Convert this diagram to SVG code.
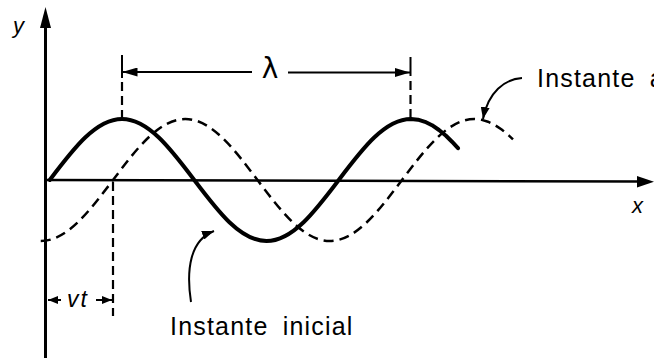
<svg xmlns="http://www.w3.org/2000/svg" width="654" height="358" viewBox="0 0 654 358">
<style>
.ax{stroke:#000;fill:none}
.solid{stroke:#000;stroke-width:4;fill:none;stroke-linecap:round;stroke-linejoin:round}
.dash{stroke:#000;stroke-width:2.5;fill:none;stroke-dasharray:10 6}
.thin{stroke:#000;stroke-width:2;fill:none}
.vdash{stroke:#000;stroke-width:2.2;fill:none;stroke-dasharray:9 5}
.lbl{font-family:"Liberation Sans",Arial,sans-serif;font-size:25px;letter-spacing:1.2px;word-spacing:6px;fill:#000}
.it{font-family:"Liberation Sans",Arial,sans-serif;font-style:italic;fill:#000}
</style>
<defs>
<marker id="ah" markerUnits="userSpaceOnUse" markerWidth="12" markerHeight="9" refX="12" refY="4.5" orient="auto">
<path d="M0,0 L12,4.5 L0,9 z" fill="#000"/>
</marker>
<marker id="big" markerUnits="userSpaceOnUse" markerWidth="15" markerHeight="9" refX="15" refY="4.5" orient="auto">
<path d="M0,0 L15,4.5 L0,9 z" fill="#000"/>
</marker>
<marker id="sm" markerUnits="userSpaceOnUse" markerWidth="10" markerHeight="8" refX="10" refY="4" orient="auto">
<path d="M0,0 L10,4 L0,8 z" fill="#000"/>
</marker>
</defs>
<rect width="654" height="358" fill="#fff"/>
<g id="axes">
<line class="ax" x1="45.5" y1="358" x2="45.5" y2="20" stroke-width="3"/>
<polygon points="45.5,7 40,28 51,28" fill="#000"/>
<line class="ax" x1="45" y1="180" x2="642" y2="181.5" stroke-width="2.5"/>
<polygon points="654,181.7 637,176 637,187.4" fill="#000"/>
<text class="it" x="13" y="33" font-size="22">y</text>
<text class="it" x="632" y="213" font-size="22">x</text>
</g>
<g id="curves">
<path id="initial" class="solid" d="M49.75,180 C73.32,148.75 95.85,119 122,119 C148.15,119 170.68,148.75 194.25,180 C217.82,211.25 240.35,241 266.5,241 C292.65,241 315.18,211.25 338.75,180 C362.32,148.75 384.85,119 411,119 L418,119.7 L425,121.8 L432,125.2 L439,130 L446,135.8 L452,141.7 L458,148.2"/>
<path id="later" class="dash" d="M40.75,241 C66.9,241 89.43,211.25 113,180 C136.57,148.75 159.1,119 185.25,119 C211.4,119 233.93,148.75 257.5,180 C281.07,211.25 303.6,241 329.75,241 C355.9,241 378.43,211.25 402,180 C425.57,148.75 448.1,119 474.25,119 L481,119.65 L488,121.7 L495,125.1 L502,129.8 L509,135.6 L513,139.4"/>
</g>
<g id="wavelength">
<line class="thin" x1="122" y1="55" x2="122" y2="78" stroke-width="2.5"/>
<line class="vdash" x1="122" y1="82" x2="122" y2="117"/>
<line class="thin" x1="410.5" y1="57" x2="410.5" y2="76" stroke-width="2.5"/>
<line class="vdash" x1="410.5" y1="81" x2="410.5" y2="118"/>
<line class="thin" x1="252" y1="72" x2="122.5" y2="72" marker-end="url(#big)"/>
<line class="thin" x1="288" y1="72.5" x2="410" y2="72.5" marker-end="url(#big)"/>
<text x="270" y="78" text-anchor="middle" font-family="DejaVu Sans, sans-serif" font-size="28" fill="#000">λ</text>
</g>
<g id="vt">
<line class="vdash" x1="113" y1="182" x2="113" y2="316"/>
<line class="thin" x1="61" y1="300" x2="48" y2="300" marker-end="url(#sm)"/>
<line class="thin" x1="96" y1="300" x2="112" y2="300" marker-end="url(#sm)"/>
<text class="it" x="67" y="307" font-size="23" letter-spacing="2">vt</text>
</g>
<g id="label-initial">
<path class="thin" d="M191,302 C186,270 190,240 214,231" marker-end="url(#ah)"/>
<text class="lbl" x="170" y="335">Instante inicial</text>
</g>
<g id="label-later">
<path class="thin" d="M522,78 C505,79 488,92 483,119" marker-end="url(#ah)"/>
<text class="lbl" x="537" y="87">Instante a</text>
</g>
</svg>
